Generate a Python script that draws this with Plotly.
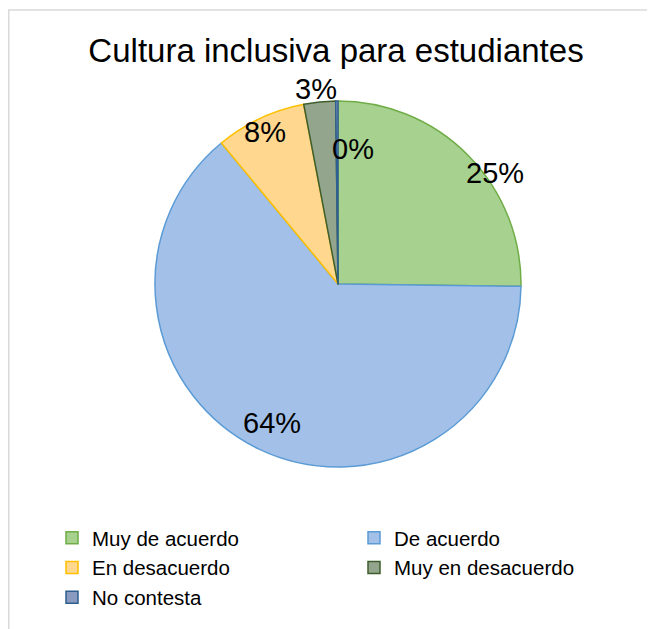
import math
import plotly.graph_objects as go

categories = ["Muy de acuerdo", "De acuerdo", "En desacuerdo", "Muy en desacuerdo", "No contesta"]
values = [25.2, 63.8, 8.0, 2.8, 0.2]
pct_labels = ["25%", "64%", "8%", "3%", "0%"]

fills = ["#a6d18f", "#a3c1e8", "#ffd78f", "#94a58d", "#8a9bbf"]
lines = ["#70ad47", "#5b9bd5", "#ffc000", "#3f5e2e", "#2e5f91"]

W, H = 655, 629
OFF = 8  # page body margin
cx, cy, R = 338 - OFF, 284 - OFF, 183

FONT = "Liberation Sans, Arial"

fig = go.Figure(go.Pie(
    labels=categories, values=values, sort=False, direction="clockwise",
    rotation=0, textinfo="none", hoverinfo="label+percent",
    marker=dict(colors=fills, line=dict(color=lines, width=1.5)),
    domain=dict(x=[(cx - R) / W, (cx + R) / W], y=[1 - (cy + R) / H, 1 - (cy - R) / H]),
))

# label placement style: (angle shift deg, radius fraction)
label_style = [(9.3, 1.05), (0.0, 0.84), (-0.4, 0.92), (-0.8, 1.07), (6.8, 0.74)]
total = sum(values)
cum = 0
for v, txt, (dth, rf) in zip(values, pct_labels, label_style):
    mid = (cum + v / 2) / total * 360
    cum += v
    th = math.radians(mid + dth)
    px = cx + rf * R * math.sin(th)
    py = cy - rf * R * math.cos(th)
    fig.add_annotation(x=px / W, y=1 - py / H, xref="paper", yref="paper",
                       xanchor="center", yanchor="middle",
                       text=txt, showarrow=False,
                       font=dict(family=FONT, size=29, color="#000000"))

fig.add_shape(type="rect", xref="paper", yref="paper",
              x0=0.75 / W, x1=1.05, y0=-0.05, y1=1 - (10 - OFF) / H,
              line=dict(color="#d9d9d9", width=1.5), fillcolor="rgba(0,0,0,0)", layer="below")

fig.update_layout(
    width=W, height=H,
    margin=dict(l=0, r=0, t=0, b=0),
    paper_bgcolor="white", plot_bgcolor="white",
    title=dict(text="Cultura inclusiva para estudiantes", x=(336 - OFF) / W, xanchor="center",
               y=1 - (50 - OFF) / H, yanchor="middle",
               font=dict(family=FONT, size=33, color="#000000")),
    showlegend=True,
    legend=dict(orientation="h", x=(92 - OFF - 40) / W, y=1 - (518 - OFF) / H,
                xanchor="left", yanchor="top", bgcolor="rgba(0,0,0,0)",
                font=dict(family=FONT, size=20.5, color="#000000"),
                itemwidth=30, entrywidth=257, entrywidthmode="pixels",
                tracegroupgap=0, traceorder="normal"),
)

fig.write_html("out.html")
